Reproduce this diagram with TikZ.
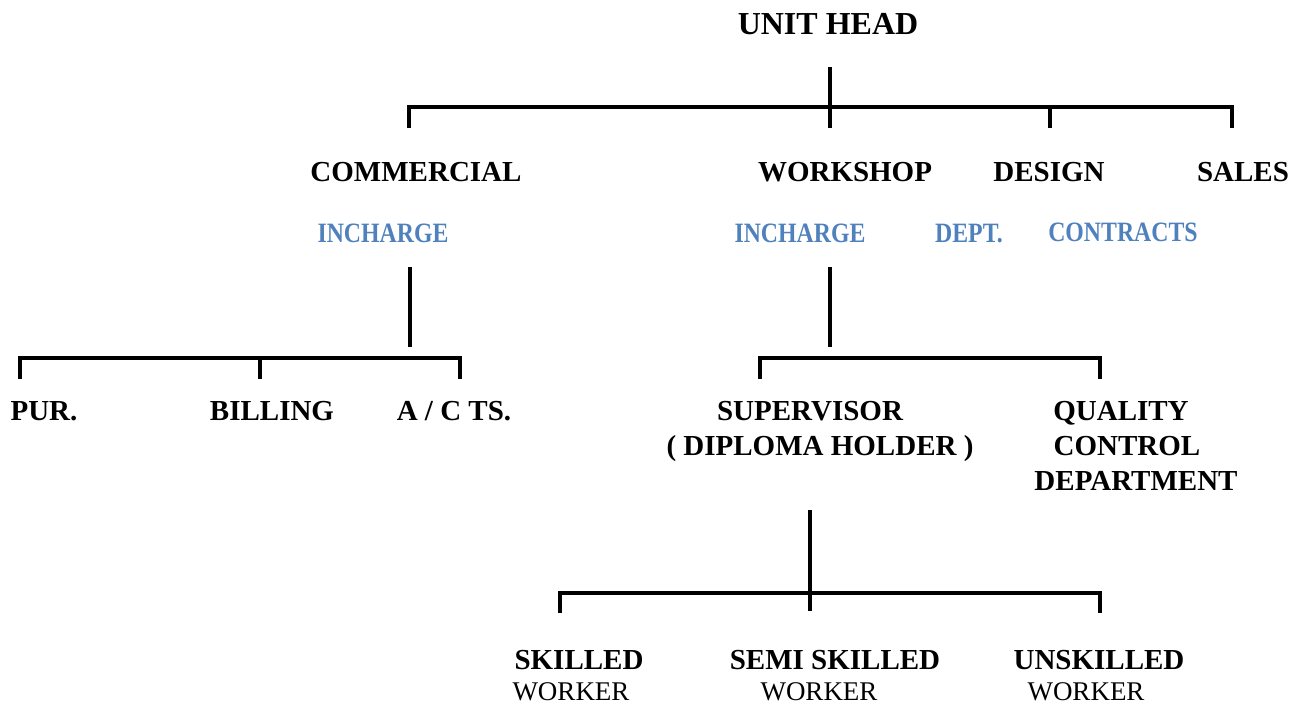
\documentclass[tikz,border=0pt]{standalone}
\usepackage{fontspec}
\setmainfont{Liberation Serif}
\newfontfamily\bluefont[FakeStretch=0.85]{Liberation Serif}
\definecolor{accent}{RGB}{79,129,189}
\begin{document}
\begin{tikzpicture}[x=1pt,y=-1pt,
  toplbl/.style={font=\fontsize{32}{34}\selectfont\bfseries, anchor=base, inner sep=0pt},
  lbl/.style={font=\fontsize{29}{31}\selectfont\bfseries, anchor=base, inner sep=0pt},
  bluelbl/.style={font=\bluefont\bfseries\fontsize{28}{30}\selectfont, text=accent, anchor=base, inner sep=0pt},
  wrk/.style={font=\fontsize{27}{29}\selectfont, anchor=base, inner sep=0pt},
  conn/.style={line width=3.5pt, line cap=butt, line join=miter}]
\useasboundingbox (0,0) rectangle (1299,705);
% texts
\node[toplbl] (head) at (828,34) {UNIT HEAD};
\node[lbl] (com) at (416,181) {COMMERCIAL};
\node[lbl] (wsh) at (845,181) {WORKSHOP};
\node[lbl] (des) at (1049,181) {DESIGN};
\node[lbl] (sal) at (1243,181) {SALES};
\node[bluelbl] (inc1) at (383,242) {INCHARGE};
\node[bluelbl] (inc2) at (800,242) {INCHARGE};
\node[bluelbl] (dept) at (969,242) {DEPT.};
\node[bluelbl] (contr) at (1123,241) {CONTRACTS};
\node[lbl] (pur) at (44,420) {PUR.};
\node[lbl] (bill) at (272,420) {BILLING};
\node[lbl] (acts) at (454,420) {A / C TS.};
\node[lbl] (sup) at (810,420) {SUPERVISOR};
\node[lbl] (dip) at (820,455) {( DIPLOMA HOLDER )};
\node[lbl] (qual) at (1121,420) {QUALITY};
\node[lbl] (ctrl) at (1127,455) {CONTROL};
\node[lbl] (qdep) at (1136,490) {DEPARTMENT};
\node[lbl] (sk) at (579,669) {SKILLED};
\node[wrk] (skw) at (571,700) {WORKER};
\node[lbl] (semi) at (835,669) {SEMI SKILLED};
\node[wrk] (semiw) at (819,700) {WORKER};
\node[lbl] (unsk) at (1099,669) {UNSKILLED};
\node[wrk] (unskw) at (1086,700) {WORKER};
% connector points
\coordinate (h1) at (830,67);  \coordinate (h2) at (830,128);
\coordinate (b1l) at (409,107); \coordinate (b1r) at (1232,107);
\coordinate (t1a) at (409,128); \coordinate (t1c) at (1050,107); \coordinate (t1cb) at (1050,128);
\coordinate (t1d) at (1232,128);
\coordinate (c1) at (410,267); \coordinate (c2) at (410,347);
\coordinate (b2l) at (20,358); \coordinate (b2r) at (460,358); \coordinate (b2m) at (260,358);
\coordinate (t2a) at (20,379); \coordinate (t2b) at (260,379); \coordinate (t2c) at (460,379);
\coordinate (w1) at (830,267); \coordinate (w2) at (830,347);
\coordinate (b3l) at (760,358); \coordinate (b3r) at (1100,358);
\coordinate (t3a) at (760,379); \coordinate (t3b) at (1100,379);
\coordinate (s1) at (810,510); \coordinate (s2) at (810,611);
\coordinate (b4l) at (560,593); \coordinate (b4r) at (1100,593);
\coordinate (t4a) at (560,613); \coordinate (t4b) at (1100,613);
% connectors
\draw[conn] (h1) -- (h2);
\draw[conn] (t1a) -- (b1l) -- (b1r) -- (t1d);
\draw[conn] (t1c) -- (t1cb);
\draw[conn] (c1) -- (c2);
\draw[conn] (t2a) -- (b2l) -- (b2r) -- (t2c);
\draw[conn] (b2m) -- (t2b);
\draw[conn] (w1) -- (w2);
\draw[conn] (t3a) -- (b3l) -- (b3r) -- (t3b);
\draw[conn] (s1) -- (s2);
\draw[conn] (t4a) -- (b4l) -- (b4r) -- (t4b);
\end{tikzpicture}
\end{document}
